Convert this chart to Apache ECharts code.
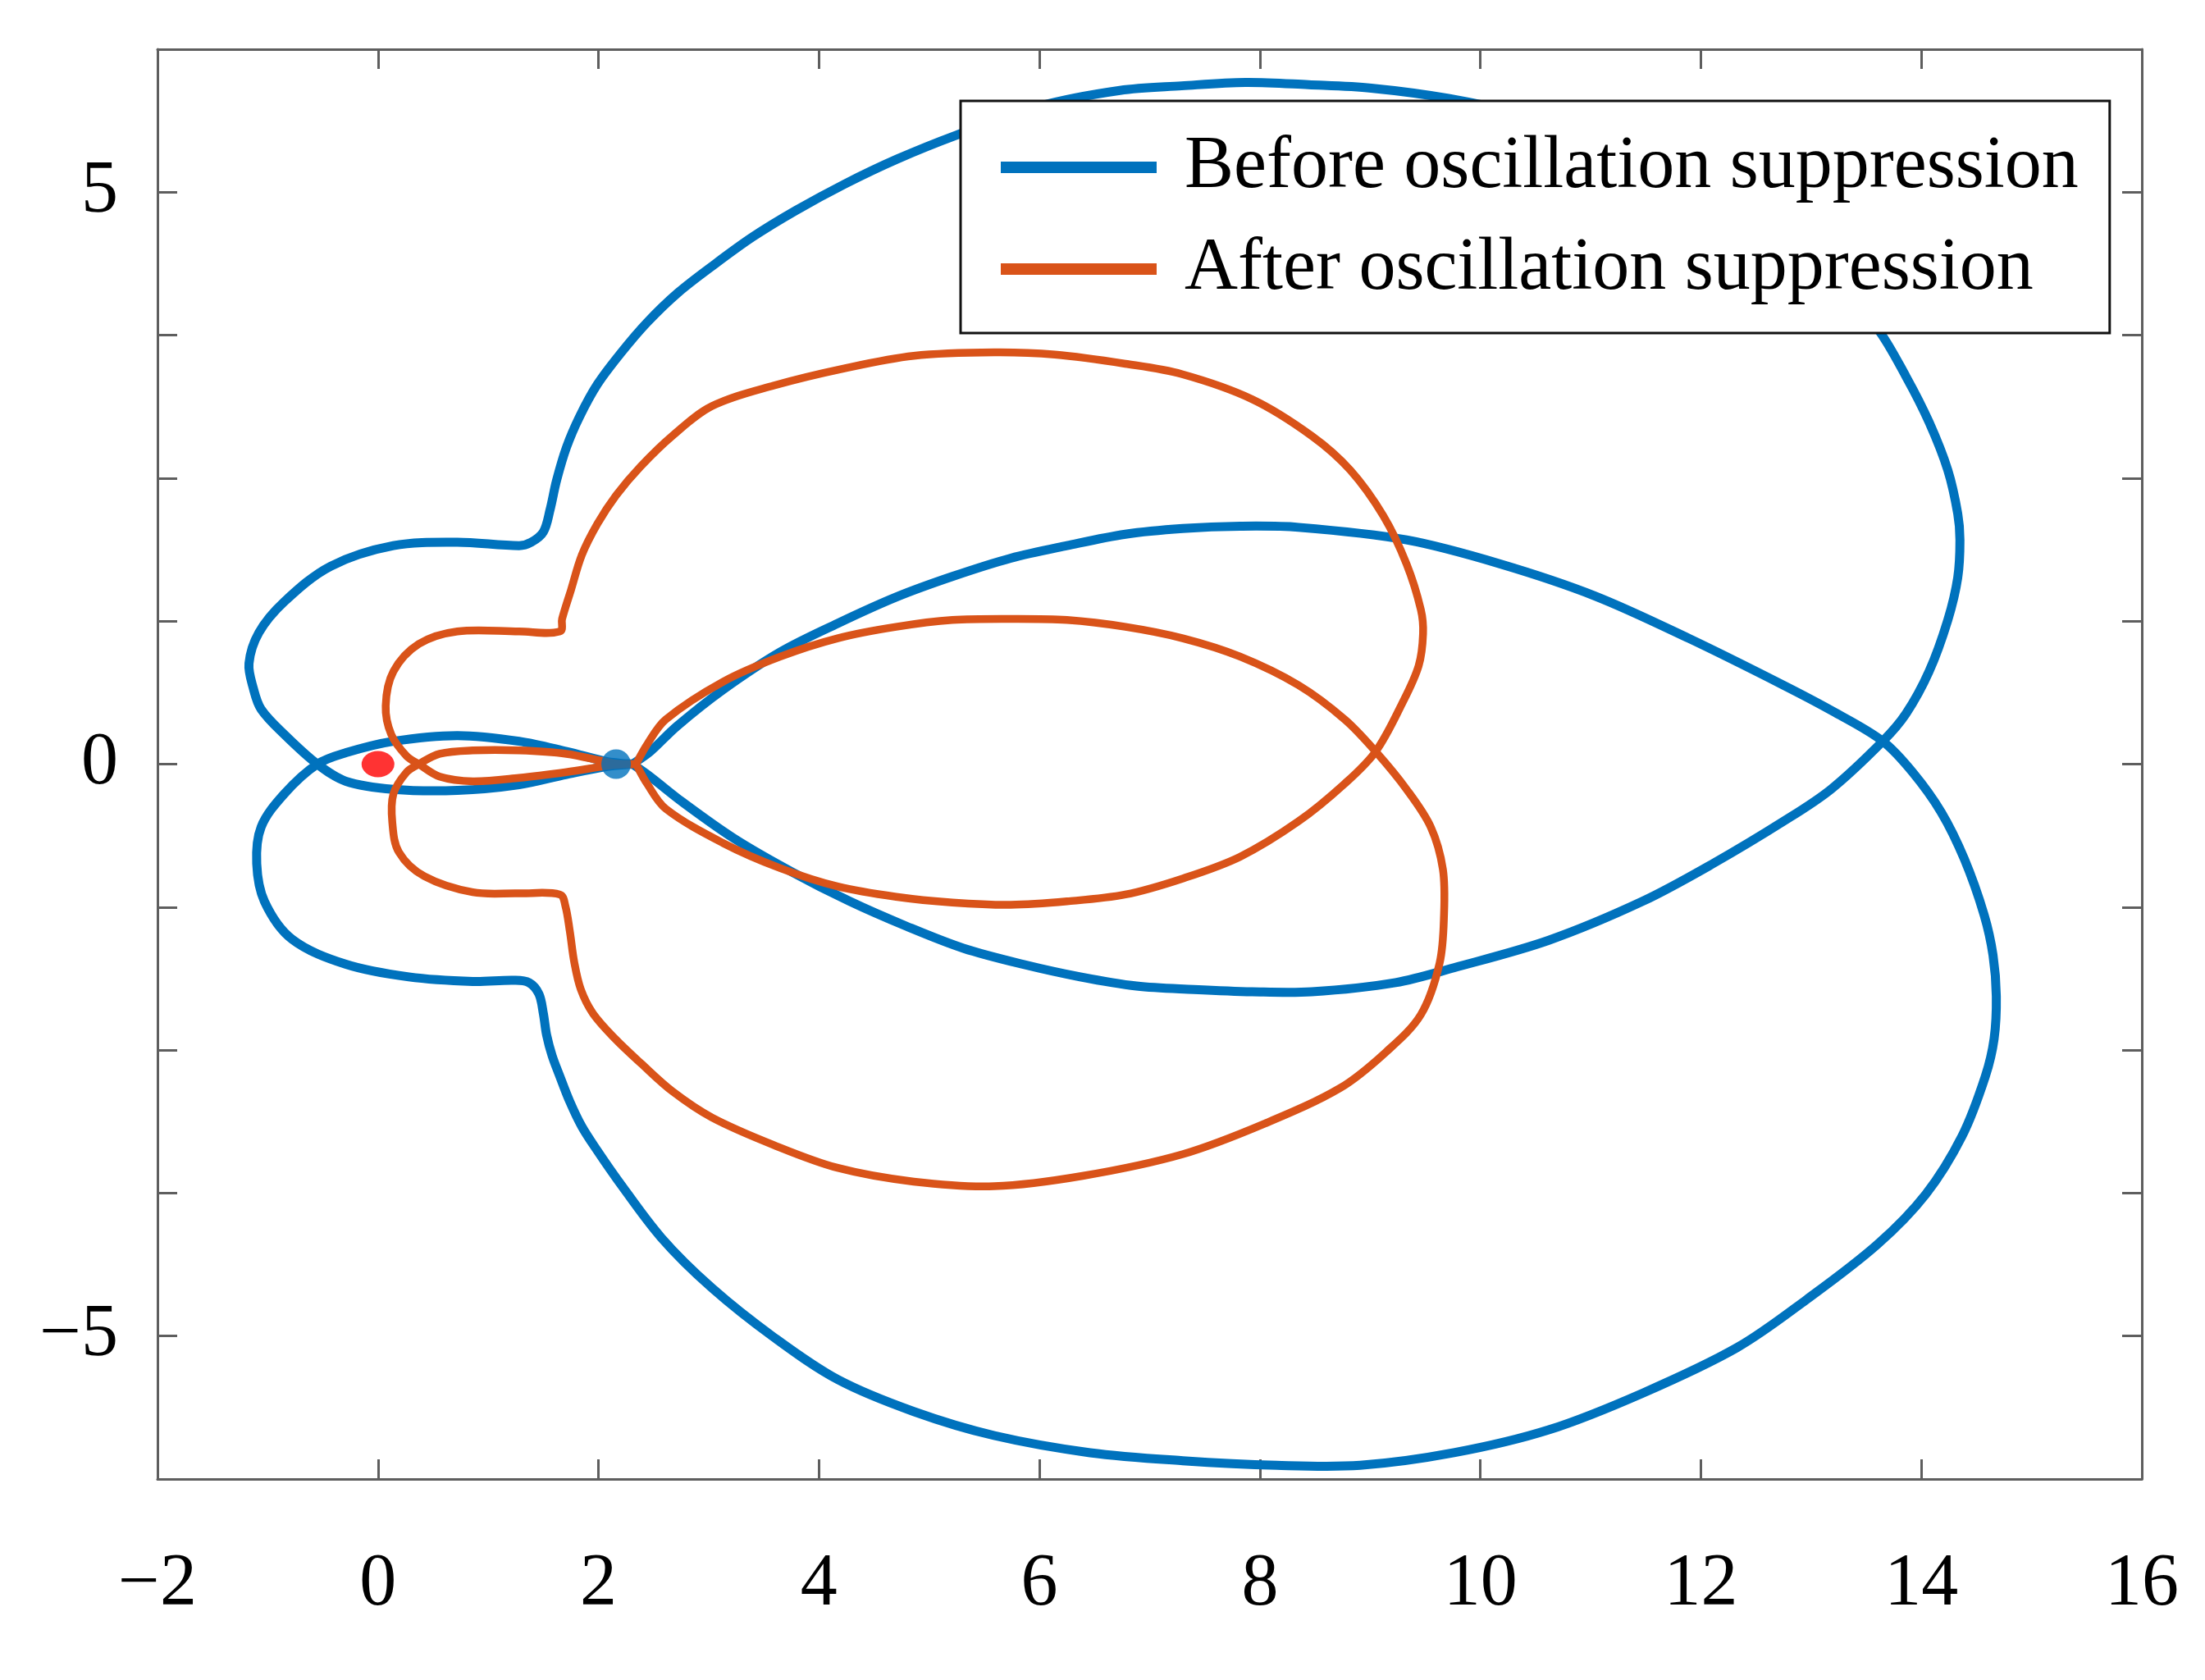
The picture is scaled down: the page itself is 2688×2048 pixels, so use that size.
<!DOCTYPE html>
<html><head><meta charset="utf-8">
<script src="https://cdn.jsdelivr.net/npm/echarts@6/dist/echarts.min.js"></script>
<style>html,body{margin:0;padding:0;background:#fff}#c{width:2688px;height:2048px}</style>
</head><body><div id="c"></div><script>
// Axis ticks
const xTicks = [-2, 0, 2, 4, 6, 8, 10, 12, 14, 16];
const yLabelValues = [5, 0, -5];

// "Before oscillation suppression" (blue): closed path in two halves
const beforePathA = [[2.31,0],[2.18,0.01],[2.08,0.02],[1.71,0.11],[1.28,0.20],[0.72,0.25],[0.14,0.20],[-0.29,0.10],[-0.55,0],[-0.85,-0.26],[-1.06,-0.55],[-1.10,-0.87],[-1.03,-1.20],[-0.78,-1.53],[-0.29,-1.75],[0.28,-1.86],[0.86,-1.90],[1.23,-1.89],[1.37,-1.91],[1.46,-2.01],[1.50,-2.18],[1.53,-2.37],[1.58,-2.55],[1.65,-2.73],[1.74,-2.95],[1.85,-3.17],[1.99,-3.38],[2.17,-3.63],[2.57,-4.14],[3.03,-4.58],[3.59,-5.01],[4.17,-5.38],[4.86,-5.66],[5.59,-5.87],[6.46,-6.02],[7.30,-6.09],[8.15,-6.13],[8.91,-6.13],[9.76,-6.02],[10.62,-5.82],[11.47,-5.50],[12.33,-5.10],[12.96,-4.68],[13.60,-4.20],[14.04,-3.76],[14.37,-3.25],[14.58,-2.73],[14.66,-2.40],[14.68,-2.03],[14.65,-1.67],[14.57,-1.32],[14.39,-0.83],[14.18,-0.42],[13.92,-0.07],[13.65,0.20],[13.22,0.45],[12.75,0.69],[11.89,1.10],[11.04,1.47],[10.18,1.75],[9.33,1.96],[8.35,2.07],[7.82,2.08],[7.30,2.06],[6.78,2.01],[6.25,1.91],[5.74,1.80],[5.21,1.64],[4.70,1.46],[4.17,1.23],[3.65,0.98],[3.13,0.65],[2.71,0.33],[2.47,0.11],[2.31,0]];
const beforePathB = [[2.31,0],[2.47,-0.11],[2.76,-0.33],[3.23,-0.65],[3.75,-0.94],[4.28,-1.20],[4.80,-1.42],[5.31,-1.61],[5.85,-1.75],[6.37,-1.86],[6.88,-1.94],[7.40,-1.97],[7.93,-1.99],[8.47,-1.99],[9.23,-1.91],[9.76,-1.78],[10.62,-1.54],[11.47,-1.20],[12.11,-0.87],[12.75,-0.50],[13.18,-0.22],[13.65,0.20],[13.86,0.44],[14.07,0.81],[14.24,1.26],[14.33,1.63],[14.35,1.96],[14.33,2.19],[14.24,2.57],[14.07,2.99],[13.86,3.39],[13.60,3.81],[13.16,4.28],[12.65,4.71],[12.01,5.10],[11.24,5.44],[10.48,5.66],[9.71,5.82],[9.01,5.91],[8.44,5.94],[7.87,5.96],[7.29,5.93],[6.73,5.89],[5.99,5.75],[5.25,5.50],[4.71,5.29],[4.23,5.07],[3.79,4.84],[3.40,4.61],[3.04,4.36],[2.72,4.12],[2.44,3.86],[2.20,3.59],[1.99,3.32],[1.83,3.04],[1.71,2.77],[1.62,2.48],[1.56,2.22],[1.50,2.03],[1.39,1.94],[1.28,1.91],[0.72,1.94],[0.14,1.91],[-0.43,1.73],[-0.85,1.42],[-1.08,1.15],[-1.17,0.88],[-1.13,0.66],[-1.06,0.48],[-0.85,0.26],[-0.55,0],[-0.29,-0.15],[0.14,-0.22],[0.72,-0.23],[1.28,-0.18],[1.71,-0.09],[2.08,-0.02],[2.31,0]];

// "After oscillation suppression" (orange): closed path in two halves
const afterPathA = [[2.34,0],[2.13,0.01],[1.71,0.09],[1.28,0.12],[0.86,0.12],[0.56,0.09],[0.37,0],[0.26,-0.07],[0.14,-0.26],[0.13,-0.51],[0.19,-0.77],[0.42,-0.98],[0.86,-1.12],[1.28,-1.13],[1.65,-1.14],[1.70,-1.24],[1.74,-1.46],[1.78,-1.73],[1.84,-1.97],[1.95,-2.18],[2.15,-2.40],[2.39,-2.62],[2.67,-2.86],[3.03,-3.09],[3.59,-3.33],[4.17,-3.53],[4.86,-3.65],[5.59,-3.69],[6.39,-3.60],[7.30,-3.41],[8.05,-3.14],[8.73,-2.83],[9.14,-2.52],[9.46,-2.19],[9.63,-1.74],[9.67,-1.32],[9.66,-0.92],[9.55,-0.55],[9.33,-0.22],[9.05,0.11],[8.77,0.39],[8.35,0.69],[7.82,0.94],[7.30,1.10],[6.78,1.20],[6.25,1.26],[5.74,1.27],[5.21,1.26],[4.70,1.20],[4.17,1.10],[3.65,0.94],[3.13,0.72],[2.61,0.39],[2.44,0.17],[2.34,0]];
const afterPathB = [[2.34,0],[2.44,-0.17],[2.61,-0.39],[3.13,-0.69],[3.65,-0.91],[4.17,-1.07],[4.70,-1.16],[5.21,-1.21],[5.74,-1.23],[6.25,-1.20],[6.78,-1.14],[7.30,-1.00],[7.82,-0.81],[8.35,-0.50],[8.77,-0.17],[9.05,0.11],[9.29,0.53],[9.44,0.86],[9.48,1.14],[9.46,1.35],[9.33,1.75],[9.12,2.17],[8.82,2.57],[8.47,2.87],[7.93,3.19],[7.29,3.41],[6.78,3.50],[6.14,3.58],[5.59,3.60],[4.86,3.57],[4.23,3.46],[3.59,3.31],[3.03,3.13],[2.67,2.87],[2.38,2.60],[2.16,2.35],[1.99,2.10],[1.85,1.83],[1.75,1.52],[1.67,1.27],[1.65,1.16],[1.28,1.16],[0.72,1.16],[0.37,1.05],[0.14,0.81],[0.07,0.51],[0.12,0.26],[0.26,0.07],[0.37,0],[0.56,-0.11],[0.86,-0.15],[1.28,-0.12],[1.71,-0.07],[2.13,-0.01],[2.34,0]];

// Marked points
const redPoint = [[0, 0]];
const bluePoint = [[2.16, 0]];

const seriesNames = ['Before oscillation suppression', 'After oscillation suppression'];
const BLUE = '#0072BD', ORANGE = '#D95319';

const FONT = "'Liberation Serif','Times New Roman',serif";
const AX = '#5e5e5e';
const minus = v => (v < 0 ? '\u2212' + Math.abs(v) : String(v));

// smooth curve through pixel points (tangent = direction of neighbours, handle = 1/3 segment)
function smoothPath(px) {
  const n = px.length;
  const dir = px.map((p, i) => {
    const a = px[Math.max(i - 1, 0)], b = px[Math.min(i + 1, n - 1)];
    const dx = b[0] - a[0], dy = b[1] - a[1], l = Math.hypot(dx, dy) || 1;
    return [dx / l, dy / l];
  });
  let d = 'M' + px[0][0].toFixed(2) + ' ' + px[0][1].toFixed(2);
  for (let i = 0; i < n - 1; i++) {
    const p1 = px[i], p2 = px[i + 1];
    const s = Math.hypot(p2[0] - p1[0], p2[1] - p1[1]) / 3;
    const c1 = [p1[0] + dir[i][0] * s, p1[1] + dir[i][1] * s];
    const c2 = [p2[0] - dir[i + 1][0] * s, p2[1] - dir[i + 1][1] * s];
    d += ' C' + c1[0].toFixed(2) + ' ' + c1[1].toFixed(2) + ' ' + c2[0].toFixed(2) + ' ' + c2[1].toFixed(2) + ' ' + p2[0].toFixed(2) + ' ' + p2[1].toFixed(2);
  }
  return d;
}

function curveSeries(name, parts, color, width, z) {
  return {
    name: name, type: 'custom', coordinateSystem: 'cartesian2d', xAxisIndex: 0, yAxisIndex: 0,
    data: parts[0].concat(parts[1]), itemStyle: { color: color }, z: z, silent: true,
    encode: { x: 0, y: 1 },
    renderItem: function (params, api) {
      if (params.dataIndex !== 0) return null;
      return {
        type: 'group',
        children: parts.map(part => ({
          type: 'path',
          shape: { pathData: smoothPath(part.map(p => api.coord(p))) },
          style: { fill: 'none', stroke: color, lineWidth: width, lineJoin: 'round', lineCap: 'round' }
        }))
      };
    }
  };
}

const axisCommon = (pos, min, max, interval, showLabel, labelFmt, margin) => ({
  type: 'value', position: pos, min: min, max: max, interval: interval,
  axisLine: { show: true, onZero: false, lineStyle: { color: AX, width: 3 } },
  axisTick: { show: true, inside: true, length: 24, lineStyle: { color: AX, width: 3 } },
  axisLabel: { show: showLabel, formatter: labelFmt, margin: margin, fontFamily: FONT, fontSize: 90, color: '#000' },
  splitLine: { show: false }
});

const chart = echarts.init(document.getElementById('c'), null, { renderer: 'canvas' });
chart.setOption({
  animation: false,
  backgroundColor: '#fff',
  grid: { left: 192, right: 77, top: 60, bottom: 245, containLabel: false },
  xAxis: [
    axisCommon('bottom', xTicks[0], xTicks[xTicks.length - 1], 2, true, v => minus(v), 84),
    axisCommon('top', xTicks[0], xTicks[xTicks.length - 1], 2, false, null, 8)
  ],
  yAxis: [
    axisCommon('left', -6.25, 6.25, 1.25, true, v => (yLabelValues.indexOf(v) >= 0 ? minus(v) : ''), 48),
    axisCommon('right', -6.25, 6.25, 1.25, false, null, 8)
  ],
  legend: {
    data: seriesNames,
    orient: 'vertical', left: 1171, top: 123,
    padding: [30, 38, 27, 49], itemGap: 22,
    itemWidth: 190, itemHeight: 14, icon: 'rect',
    backgroundColor: '#fff', borderColor: '#111', borderWidth: 3, borderRadius: 0,
    textStyle: { fontFamily: FONT, fontSize: 90, color: '#000', lineHeight: 102, padding: [0, 0, 0, 29] }
  },
  series: [
    curveSeries(seriesNames[0], [beforePathA, beforePathB], BLUE, 11, 2),
    curveSeries(seriesNames[1], [afterPathA, afterPathB], ORANGE, 9.5, 3),
    { type: 'scatter', data: bluePoint, symbol: 'circle', symbolSize: 36,
      itemStyle: { color: BLUE }, z: 4, silent: true },
    { type: 'scatter', data: redPoint, symbol: 'circle', symbolSize: [40, 32],
      itemStyle: { color: '#FF0000' }, z: 5, silent: true }
  ]
});
</script></body></html>
